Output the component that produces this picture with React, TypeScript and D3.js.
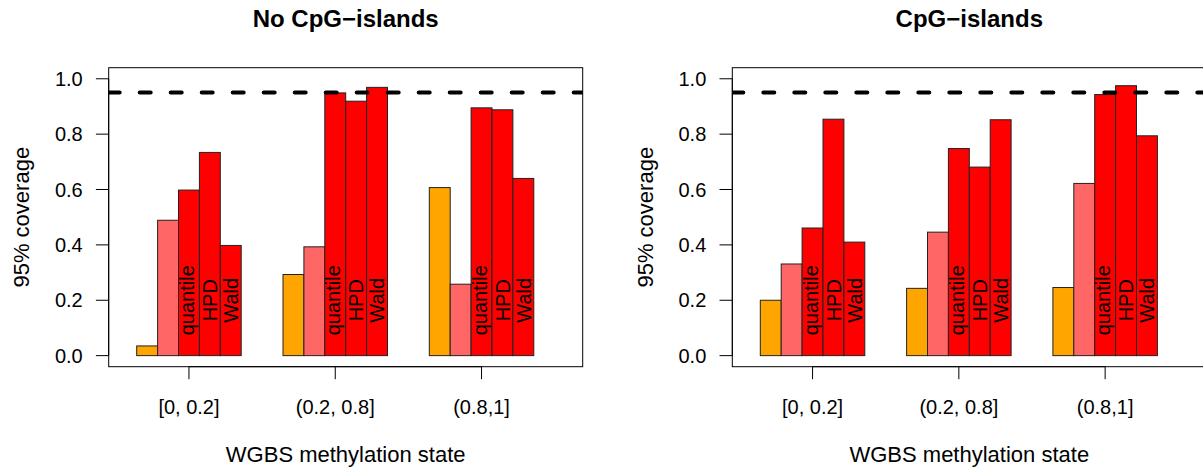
import * as d3 from "d3";

const panelTitles = ["No CpG\u2212islands", "CpG\u2212islands"];
const groupLabels = ["[0, 0.2]", "(0.2, 0.8]", "(0.8,1]"];
const barLabels = ["", "", "quantile", "HPD", "Wald"];
const barColors = ["#FFA500", "#FF6666", "#FF0000", "#FF0000", "#FF0000"];
const yTicks = [0, 0.2, 0.4, 0.6, 0.8, 1.0];
const nominal = 0.95;

// rows = bar within a group, columns = methylation state group
const noCpg = [
  [0.035, 0.293, 0.607],
  [0.489, 0.393, 0.258],
  [0.598, 0.949, 0.895],
  [0.734, 0.919, 0.888],
  [0.398, 0.969, 0.64],
];
const cpg = [
  [0.2, 0.243, 0.246],
  [0.331, 0.446, 0.622],
  [0.461, 0.748, 0.943],
  [0.854, 0.681, 0.975],
  [0.41, 0.852, 0.794],
];

const W = 1203;
const H = 469;
const font = "'Liberation Sans', Arial, Helvetica, sans-serif";
const boxW = 474;
const boxTop = 67.7;
const boxBottom = 366.7;

function Panel({ data, title, left, id }) {
  // barplot-style coordinates: each group = 2 units gap + 5 bars
  const xlim = [1.5, 22.5];
  const xe = 0.04 * (xlim[1] - xlim[0]);
  const x = d3.scaleLinear().domain([xlim[0] - xe, xlim[1] + xe]).range([left, left + boxW]);
  const y = d3.scaleLinear().domain([-0.04, 1.04]).range([boxBottom, boxTop]);
  const unit = x(1) - x(0);
  const groupStart = (g) => 2 + 7 * g;
  const centers = groupLabels.map((_, g) => x(groupStart(g) + 2.5));
  const midX = left + boxW / 2;
  const midY = (boxTop + boxBottom) / 2;

  return (
    <g fontFamily={font}>
      <defs>
        <clipPath id={id}>
          <rect x={left} y={boxTop} width={boxW} height={boxBottom - boxTop} />
        </clipPath>
      </defs>
      {data.map((row, s) =>
        row.map((v, g) => (
          <rect
            key={`b${s}-${g}`}
            x={x(groupStart(g) + s)}
            y={y(v)}
            width={unit}
            height={y(0) - y(v)}
            fill={barColors[s]}
            stroke="#222"
            strokeWidth={1}
          />
        ))
      )}
      {data.map((row, s) =>
        barLabels[s]
          ? row.map((_, g) => {
              const cx = x(groupStart(g) + s + 0.5) + (/[gjpqy]/.test(barLabels[s]) ? 5.2 : 7.2);
              const cy = y(0.2);
              return (
                <text
                  key={`t${s}-${g}`}
                  transform={`translate(${cx},${cy}) rotate(-90)`}
                  textAnchor="middle"
                  fontSize={20}
                  fill="#000"
                >
                  {barLabels[s]}
                </text>
              );
            })
          : null
      )}
      <line
        x1={left}
        x2={left + boxW}
        y1={y(nominal)}
        y2={y(nominal)}
        stroke="#000"
        strokeWidth={4}
        strokeDasharray="11 20"
        strokeLinecap="round"
        clipPath={`url(#${id})`}
      />
      <rect x={left} y={boxTop} width={boxW} height={boxBottom - boxTop} fill="none" stroke="#000" strokeWidth={1} />
      {/* y axis */}
      <line x1={left} x2={left} y1={y(0)} y2={y(1)} stroke="#000" />
      {yTicks.map((t) => (
        <g key={t}>
          <line x1={left - 12.8} x2={left} y1={y(t)} y2={y(t)} stroke="#000" />
          <text x={left - 26} y={y(t) + 7.2} textAnchor="end" fontSize={20} fill="#000">
            {t.toFixed(1)}
          </text>
        </g>
      ))}
      {/* x axis */}
      <line x1={centers[0]} x2={centers[centers.length - 1]} y1={boxBottom} y2={boxBottom} stroke="#000" />
      {groupLabels.map((lab, g) => (
        <g key={lab}>
          <line x1={centers[g]} x2={centers[g]} y1={boxBottom} y2={boxBottom + 12.5} stroke="#000" />
          <text x={centers[g]} y={413.8} textAnchor="middle" fontSize={20} fill="#000">
            {lab}
          </text>
        </g>
      ))}
      <text x={midX} y={461.7} textAnchor="middle" fontSize={22} fill="#000">
        WGBS methylation state
      </text>
      <text
        transform={`translate(${left - 79.7},${midY}) rotate(-90)`}
        textAnchor="middle"
        fontSize={22}
        fill="#000"
      >
        95% coverage
      </text>
      <text x={midX} y={26.7} textAnchor="middle" fontSize={24} fontWeight="bold" fill="#000">
        {title}
      </text>
    </g>
  );
}

export default function App() {
  return (
    <div style={{ position: "absolute", left: 0, top: 0 }}>
      <svg width={W} height={H} style={{ display: "block", background: "#fff" }}>
        <Panel data={noCpg} title={panelTitles[0]} left={108.7} id="clipA" />
        <Panel data={cpg} title={panelTitles[1]} left={732.3} id="clipB" />
      </svg>
    </div>
  );
}
